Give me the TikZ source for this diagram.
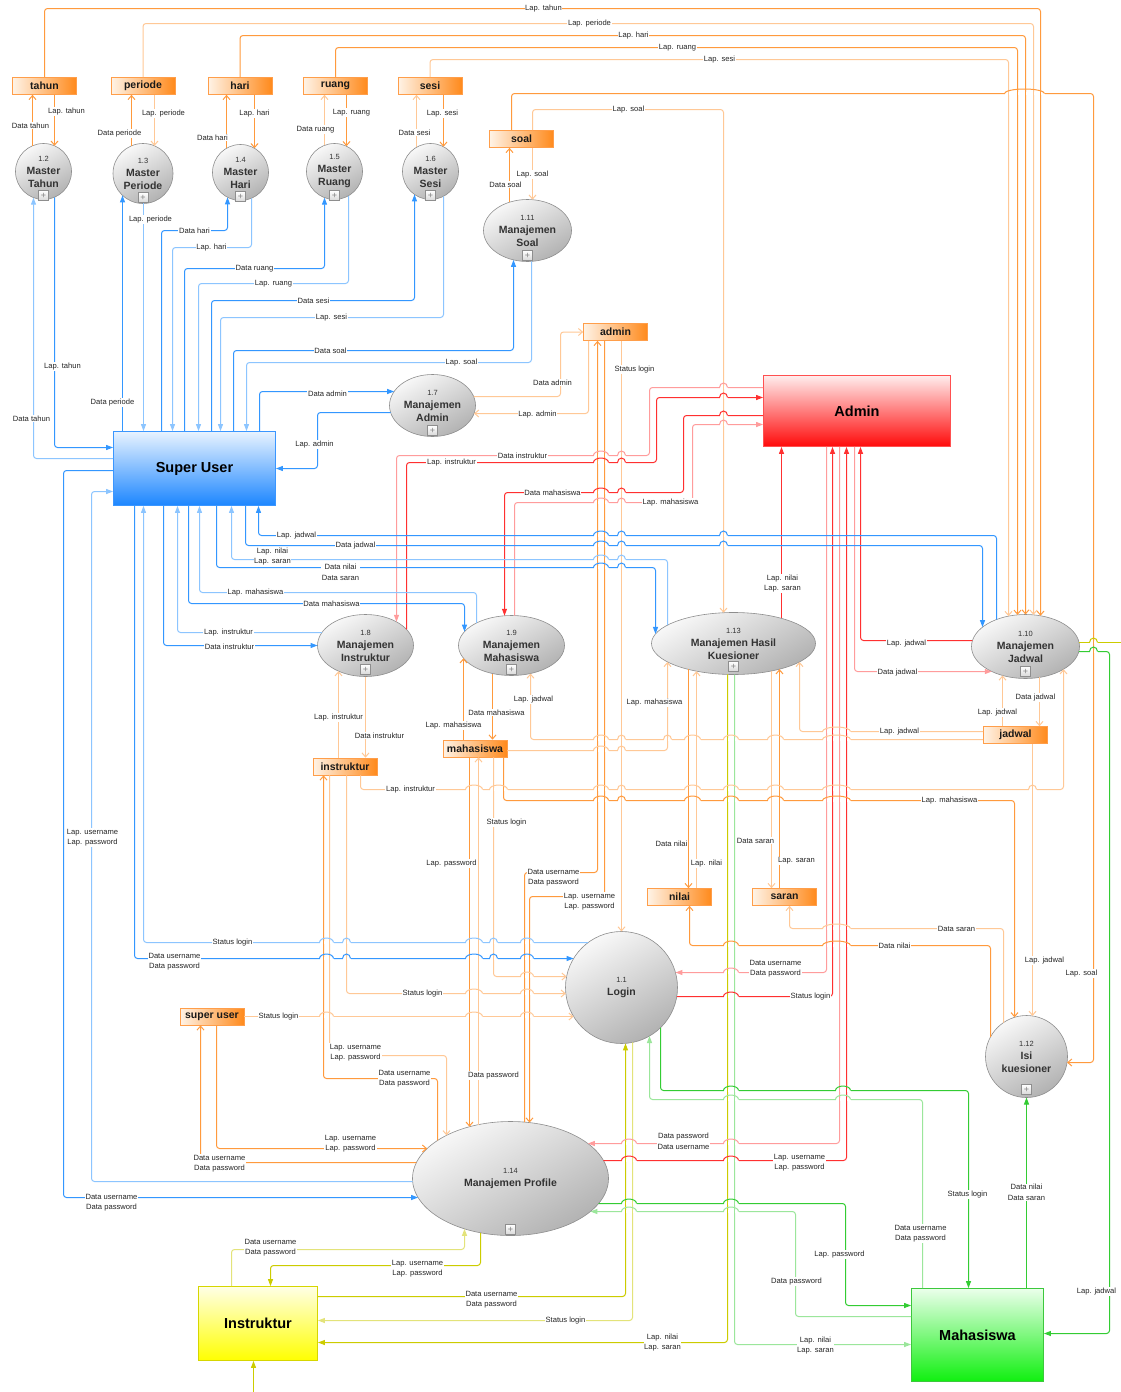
\documentclass[tikz,border=0pt]{standalone}
\usepackage{fontspec}
\setmainfont{Liberation Sans}
\usetikzlibrary{shapes.geometric,arrows.meta,calc}

% flow colours: strong and pale shade of each actor
\definecolor{oD}{HTML}{FF9A3D}
\definecolor{oP}{HTML}{FFC896}
\definecolor{bD}{HTML}{3397FF}
\definecolor{bP}{HTML}{8CC5FF}
\definecolor{rD}{HTML}{FF3030}
\definecolor{rP}{HTML}{FF9C9C}
\definecolor{gD}{HTML}{33CC33}
\definecolor{gP}{HTML}{9BE69B}
\definecolor{yD}{HTML}{CCCC00}
\definecolor{yP}{HTML}{E3E37A}
% data stores
\definecolor{stL}{HTML}{FFF3E6}
\definecolor{stR}{HTML}{FF8A1C}
\definecolor{stB}{HTML}{FF9E4A}
% processes
\definecolor{prL}{HTML}{F8F8F8}
\definecolor{prD}{HTML}{B2B2B2}
\definecolor{prB}{HTML}{8E8E8E}
% external entities
\definecolor{suT}{HTML}{E8F3FF}\definecolor{suB}{HTML}{1C86FF}\definecolor{suE}{HTML}{3A96FF}
\definecolor{adT}{HTML}{FFEDED}\definecolor{adB}{HTML}{FF0A0A}\definecolor{adE}{HTML}{FF5050}
\definecolor{inT}{HTML}{FFFFE6}\definecolor{inB}{HTML}{FFFF00}\definecolor{inE}{HTML}{D6D600}
\definecolor{mhT}{HTML}{EBFFEB}\definecolor{mhB}{HTML}{10F010}\definecolor{mhE}{HTML}{3CC83C}

\tikzset{
  con/.style={line width=1pt, rounded corners=3pt},
  vtip/.style={-{Straight Barb[length=4pt,width=7pt]}},
  ftip/.style={-{Triangle[length=7pt,width=5pt]}},
  fo/.style={con, color=oD, vtip},
  fop/.style={con, color=oP, vtip},
  fb/.style={con, color=bD, ftip},
  fbp/.style={con, color=bP, ftip},
  fr/.style={con, color=rD, ftip},
  frp/.style={con, color=rP, ftip},
  fg/.style={con, color=gD, ftip},
  fgp/.style={con, color=gP, ftip},
  fy/.style={con, color=yD, ftip},
  fyp/.style={con, color=yP, ftip},
  lbl/.style={fill=white, inner sep=0.6pt, font=\fontsize{7.6}{10.5}\selectfont, text=black!85, align=center},
  store/.style={rectangle, minimum width=64pt, minimum height=17pt, inner sep=0pt,
    left color=stL, right color=stR, draw=stB, line width=0.7pt,
    font=\fontsize{10.5}{12}\selectfont\bfseries, text=black!90},
  ent/.style={rectangle, inner sep=0pt, line width=0.8pt,
    font=\fontsize{14.5}{16}\selectfont\bfseries, text=black},
  proc/.style={ellipse, inner sep=0pt, draw=prB, line width=0.6pt,
    top color=prL, bottom color=prD, shading angle=30, align=center,
    font=\fontsize{10.5}{13}\selectfont\bfseries, text=black!80},
  plusbox/.style={rectangle, draw=prB, line width=0.5pt, top color=white, bottom color=gray!30,
    minimum size=10pt, inner sep=0pt, font=\fontsize{9}{9}\selectfont, text=gray},
}

% process geometry, looked up by node name
\newcommand\pcx[1]{\csname cx@#1\endcsname}
\newcommand\pcy[1]{\csname cy@#1\endcsname}
\newcommand\prx[1]{\csname rx@#1\endcsname}
\newcommand\pry[1]{\csname ry@#1\endcsname}
\newcommand\PNum[1]{{\fontsize{7.5}{9}\selectfont\mdseries #1}}
% name, x, y, rx, ry, text, offset of the expand box (empty: none)
\newcommand\DFDproc[7]{%
  \expandafter\xdef\csname cx@#1\endcsname{#2}%
  \expandafter\xdef\csname cy@#1\endcsname{#3}%
  \expandafter\xdef\csname rx@#1\endcsname{#4}%
  \expandafter\xdef\csname ry@#1\endcsname{#5}%
  \node[proc, minimum width=#4*2pt, minimum height=#5*2pt] (#1) at (#2,#3) {#6};%
  \ifx\relax#7\relax\else\node[plusbox] (#1 plus) at ($(#1.center)+(0,#7)$) {+};\fi}
% border points of a process: top/bottom at a given x, left/right at a given y
\newcommand\bT[2]{\coordinate (#1 T#2) at ($(#1.center)+({#2-\pcx{#1}},{-\pry{#1}*sqrt(1-(#2-\pcx{#1})*(#2-\pcx{#1})/(\prx{#1}*\prx{#1}))})$);}
\newcommand\bB[2]{\coordinate (#1 B#2) at ($(#1.center)+({#2-\pcx{#1}},{\pry{#1}*sqrt(1-(#2-\pcx{#1})*(#2-\pcx{#1})/(\prx{#1}*\prx{#1}))})$);}
\newcommand\bL[2]{\coordinate (#1 L#2) at ($(#1.center)+({-\prx{#1}*sqrt(1-(#2-\pcy{#1})*(#2-\pcy{#1})/(\pry{#1}*\pry{#1}))},{#2-\pcy{#1}})$);}
\newcommand\bR[2]{\coordinate (#1 R#2) at ($(#1.center)+({\prx{#1}*sqrt(1-(#2-\pcy{#1})*(#2-\pcy{#1})/(\pry{#1}*\pry{#1}))},{#2-\pcy{#1}})$);}

% line jump: a horizontal flow at height #1 (colour #2) bridges the
% vertical flows between x=#3 and x=#4, listed as x/colour in #5
\newcommand\HOP[5]{%
  \fill[white] (#3-4,#1-1.2) rectangle (#4+4,#1+1.2);
  \foreach \vx/\vc in {#5} {\draw[line width=1pt,\vc] (\vx,#1-1.7) -- (\vx,#1+1.7);}
  \draw[line width=1pt,#2] (#3-4,#1) arc[start angle=180,end angle=360,x radius={(#4-#3)/2+4},y radius=4.5];}

\newcounter{lbc}
\newcommand\Lb[2]{\stepcounter{lbc}\node[lbl] (lab\arabic{lbc}) at (#1) {#2};}

\begin{document}
\begin{tikzpicture}[x=1pt,y=-1pt]
\fill[white] (0,0) rectangle (1120,1392);
\useasboundingbox (0,0) rectangle (1120,1392);
% half-unit offset keeps the one-unit lines on whole raster cells
\begin{scope}[shift={(0.5,0.5)}]

% ---------------- external entities ----------------
\node[ent, top color=suT, bottom color=suB, draw=suE, minimum width=162pt, minimum height=74pt] (eSuper) at (194,468) {Super User};
\node[ent, top color=adT, bottom color=adB, draw=adE, minimum width=187pt, minimum height=71pt] (eAdmin) at (856.5,410.5) {Admin};
\node[ent, top color=inT, bottom color=inB, draw=inE, minimum width=119pt, minimum height=74pt] (eInstr) at (257.5,1323) {Instruktur};
\node[ent, top color=mhT, bottom color=mhB, draw=mhE, minimum width=132pt, minimum height=93pt] (eMhs) at (977,1334.5) {Mahasiswa};

% ---------------- data stores ----------------
\node[store] (sTahun)   at (44,85.5)    {tahun};
\node[store] (sPeriode) at (142.5,85.5) {periode};
\node[store] (sHari)    at (239.5,85.5) {hari};
\node[store] (sRuang)   at (335,85.5)   {ruang};
\node[store] (sSesi)    at (429.5,85.5) {sesi};
\node[store] (sSoal)    at (521,138.5)  {soal};
\node[store] (sAdmin)   at (615,331.5)  {admin};
\node[store] (sInstr)   at (344.5,766)  {instruktur};
\node[store] (sMhs)     at (474.5,748)  {mahasiswa};
\node[store] (sNilai)   at (679,896.5)  {nilai};
\node[store] (sSaran)   at (784,896.5)  {saran};
\node[store] (sJadwal)  at (1015,734.5) {jadwal};
\node[store] (sSuper)   at (211.5,1016) {super user};

% ---------------- processes ----------------
\DFDproc{pTahun}{43}{171}{28}{28}{\PNum{1.2}\\Master\\Tahun}{24}
\DFDproc{pPeriode}{142.5}{173}{30}{30}{\PNum{1.3}\\Master\\Periode}{24}
\DFDproc{pHari}{240}{172}{28}{28}{\PNum{1.4}\\Master\\Hari}{24}
\DFDproc{pRuang}{334}{171}{28}{28}{\PNum{1.5}\\Master\\Ruang}{24}
\DFDproc{pSesi}{430}{171}{28}{28}{\PNum{1.6}\\Master\\Sesi}{24}
\DFDproc{pSoal}{527}{230}{44}{31}{\PNum{1.11}\\Manajemen\\Soal}{25}
\DFDproc{pAdmin}{432}{405}{43}{31}{\PNum{1.7}\\Manajemen\\Admin}{25}
\DFDproc{pInstr}{365}{645}{48}{31}{\PNum{1.8}\\Manajemen\\Instruktur}{24}
\DFDproc{pMhs}{511}{645}{53}{30}{\PNum{1.9}\\Manajemen\\Mahasiswa}{24}
\DFDproc{pHasil}{733}{643}{82}{31}{\PNum{1.13}\\Manajemen Hasil\\Kuesioner}{23}
\DFDproc{pJadwal}{1025}{646}{54}{32}{\PNum{1.10}\\Manajemen\\Jadwal}{25}
\DFDproc{pLogin}{621}{987}{56}{56}{\PNum{1.1}\\Login}{}
\DFDproc{pIsi}{1026}{1056}{41}{41}{\PNum{1.12}\\Isi\\kuesioner}{33}
\DFDproc{pProfile}{510}{1178}{98}{57}{\PNum{1.14}\\Manajemen Profile}{51}

% ---------------- border points used by the flows ----------------
\bT{pTahun}{32}\bT{pTahun}{54}\bB{pTahun}{33}\bB{pTahun}{54}
\bT{pPeriode}{131}\bT{pPeriode}{154}\bB{pPeriode}{122}\bB{pPeriode}{143}
\bT{pHari}{226}\bT{pHari}{254}\bB{pHari}{227}\bB{pHari}{251}
\bT{pRuang}{324}\bT{pRuang}{346}\bB{pRuang}{324}\bB{pRuang}{348}
\bT{pSesi}{416}\bT{pSesi}{443}\bB{pSesi}{414}\bB{pSesi}{443}
\bT{pSoal}{509}\bT{pSoal}{532}\bB{pSoal}{513}\bB{pSoal}{531}
\bL{pAdmin}{391}\bL{pAdmin}{412}\bR{pAdmin}{396}\bR{pAdmin}{413}
\bT{pInstr}{396}\bT{pInstr}{406}\bB{pInstr}{338}\bB{pInstr}{365}\bL{pInstr}{632}\bL{pInstr}{645}
\bT{pMhs}{504}\bT{pMhs}{514}\bT{pMhs}{476}\bT{pMhs}{464}\bB{pMhs}{463}\bB{pMhs}{492}\bB{pMhs}{530}
\bT{pHasil}{723}\bT{pHasil}{781}\bT{pHasil}{667}\bT{pHasil}{655}
\bB{pHasil}{667}\bB{pHasil}{688}\bB{pHasil}{696}\bB{pHasil}{727}\bB{pHasil}{734}\bB{pHasil}{771}\bB{pHasil}{779}\bB{pHasil}{799}
\bT{pJadwal}{1040}\bT{pJadwal}{1033}\bT{pJadwal}{1025}\bT{pJadwal}{1017}\bT{pJadwal}{1008}\bT{pJadwal}{996}\bT{pJadwal}{982}
\bB{pJadwal}{1063}\bB{pJadwal}{1002}\bB{pJadwal}{1039}\bL{pJadwal}{640}\bL{pJadwal}{671}\bR{pJadwal}{642}\bR{pJadwal}{651}
\bT{pLogin}{621}\bL{pLogin}{942}\bL{pLogin}{958}\bL{pLogin}{976}\bL{pLogin}{993}\bL{pLogin}{1016}
\bR{pLogin}{972}\bR{pLogin}{996}\bB{pLogin}{625}\bB{pLogin}{632}\bB{pLogin}{649}\bB{pLogin}{660}
\bT{pIsi}{1014}\bT{pIsi}{1032}\bT{pIsi}{990}\bT{pIsi}{1003}\bB{pIsi}{1026}\bR{pIsi}{1062}
\bT{pProfile}{524}\bT{pProfile}{529}\bT{pProfile}{437}\bT{pProfile}{446}\bT{pProfile}{469}\bT{pProfile}{478}
\bB{pProfile}{464}\bB{pProfile}{480}\bL{pProfile}{1197}\bL{pProfile}{1181}\bL{pProfile}{1162}\bL{pProfile}{1148}
\bR{pProfile}{1143}\bR{pProfile}{1160}\bR{pProfile}{1203}\bR{pProfile}{1211}

% ---------------- master data stores <-> master processes ----------------
\draw[fo]  (pTahun T32) -- (pTahun T32 |- sTahun.south);
\draw[fo]  (pTahun T54 |- sTahun.south) -- (pTahun T54);
\draw[fo]  (pPeriode T131) -- (pPeriode T131 |- sPeriode.south);
\draw[fop] (pPeriode T154 |- sPeriode.south) -- (pPeriode T154);
\draw[fo]  (pHari T226) -- (pHari T226 |- sHari.south);
\draw[fo]  (pHari T254 |- sHari.south) -- (pHari T254);
\draw[fop] (pRuang T324) -- (pRuang T324 |- sRuang.south);
\draw[fo]  (pRuang T346 |- sRuang.south) -- (pRuang T346);
\draw[fop] (pSesi T416) -- (pSesi T416 |- sSesi.south);
\draw[fo]  (pSesi T443 |- sSesi.south) -- (pSesi T443);
\draw[fo]  (pSoal T509) -- (pSoal T509 |- sSoal.south);
\draw[fop] (pSoal T532 |- sSoal.south) -- (pSoal T532);

% reports from the master stores along the top
\draw[fo]  (sTahun.north) -- (sTahun.north |- 0,8) -- (pJadwal T1040 |- 0,8) -- (pJadwal T1040);
\draw[fop] (sPeriode.north) -- (sPeriode.north |- 0,23) -- (pJadwal T1033 |- 0,23) -- (pJadwal T1033);
\draw[fo]  (sHari.north) -- (sHari.north |- 0,35) -- (pJadwal T1025 |- 0,35) -- (pJadwal T1025);
\draw[fo]  (sRuang.north) -- (sRuang.north |- 0,47) -- (pJadwal T1017 |- 0,47) -- (pJadwal T1017);
\draw[fop] (sSesi.north) -- (sSesi.north |- 0,59) -- (pJadwal T1008 |- 0,59) -- (pJadwal T1008);
\draw[fo]  (511,0 |- sSoal.north) -- (511,93) -- (1093,93) -- (1093,0 |- pIsi R1062) -- (pIsi R1062);
\draw[fop] (532,0 |- sSoal.north) -- (532,109) -- (pHasil T723 |- 0,109) -- (pHasil T723);

% ---------------- Super User <-> master processes ----------------
\draw[fbp] (eSuper.west |- 0,458) -- (pTahun B33 |- 0,458) -- (pTahun B33);
\draw[fb]  (pTahun B54) -- (pTahun B54 |- 0,447) -- (eSuper.west |- 0,447);
\draw[fb]  (pPeriode B122 |- eSuper.north) -- (pPeriode B122);
\draw[fbp] (pPeriode B143) -- (pPeriode B143 |- eSuper.north);
\draw[fb]  (161,0 |- eSuper.north) -- (161,230) -- (pHari B227 |- 0,230) -- (pHari B227);
\draw[fbp] (pHari B251) -- (pHari B251 |- 0,247) -- (172,247) -- (172,0 |- eSuper.north);
\draw[fb]  (184,0 |- eSuper.north) -- (184,268) -- (pRuang B324 |- 0,268) -- (pRuang B324);
\draw[fbp] (pRuang B348) -- (pRuang B348 |- 0,283) -- (198,283) -- (198,0 |- eSuper.north);
\draw[fb]  (211,0 |- eSuper.north) -- (211,300) -- (pSesi B414 |- 0,300) -- (pSesi B414);
\draw[fbp] (pSesi B443) -- (pSesi B443 |- 0,317) -- (220,317) -- (220,0 |- eSuper.north);
\draw[fb]  (233,0 |- eSuper.north) -- (233,350) -- (pSoal B513 |- 0,350) -- (pSoal B513);
\draw[fbp] (pSoal B531) -- (pSoal B531 |- 0,362) -- (246,362) -- (246,0 |- eSuper.north);
\draw[fb]  (259,0 |- eSuper.north) -- (259,391) -- (pAdmin L391);
\draw[fb]  (pAdmin L412) -- (317,412) -- (317,468) -- (eSuper.east |- 0,468);

% ---------------- admin store ----------------
\draw[fop] (pAdmin R396) -- (560,396) -- (560,0 |- sAdmin.west) -- (sAdmin.west);
\draw[fop] (588,0 |- sAdmin.south) -- (588,413) -- (pAdmin R413);
\draw[fop] (pLogin T621 |- sAdmin.south) -- (pLogin T621);
\draw[fo]  (pProfile T524) -- (524,872) -- (597,872) -- (597,0 |- sAdmin.south);
\draw[fo]  (604,0 |- sAdmin.south) -- (604,896) -- (529,896) -- (pProfile T529);

% ---------------- Admin flows ----------------
\draw[frp] (eAdmin.west |- 0,387) -- (649,387) -- (649,455) -- (396,455) -- (pInstr T396);
\draw[fr]  (pInstr T406) -- (406,462) -- (656,462) -- (656,397) -- (eAdmin.west |- 0,397);
\draw[fr]  (eAdmin.west |- 0,415) -- (683,415) -- (683,492) -- (504,492) -- (pMhs T504);
\draw[frp] (pMhs T514) -- (514,502) -- (692,502) -- (692,424) -- (eAdmin.west |- 0,424);
\draw[fr]  (pHasil T781) -- (pHasil T781 |- eAdmin.south);
\draw[fr]  (pJadwal L640) -- (860,640) -- (860,0 |- eAdmin.south);
\draw[frp] (854,0 |- eAdmin.south) -- (854,671) -- (pJadwal L671);
\draw[frp] (826,0 |- eAdmin.south) -- (826,972) -- (pLogin R972);
\draw[fr]  (pLogin R996) -- (832,996) -- (832,0 |- eAdmin.south);
\draw[frp] (839,0 |- eAdmin.south) -- (839,1143) -- (pProfile R1143);
\draw[fr]  (pProfile R1160) -- (846,1160) -- (846,0 |- eAdmin.south);

% ---------------- Super User flows below ----------------
\draw[fb]  (pJadwal T996) -- (996,535) -- (258,535) -- (258,0 |- eSuper.south);
\draw[fb]  (245,0 |- eSuper.south) -- (245,545) -- (982,545) -- (pJadwal T982);
\draw[fbp] (pHasil T667) -- (667,559) -- (231,559) -- (231,0 |- eSuper.south);
\draw[fb]  (216,0 |- eSuper.south) -- (216,567) -- (655,567) -- (pHasil T655);
\draw[fbp] (pMhs T476) -- (476,592) -- (199,592) -- (199,0 |- eSuper.south);
\draw[fb]  (188,0 |- eSuper.south) -- (188,603) -- (464,603) -- (pMhs T464);
\draw[fbp] (pInstr L632) -- (177,632) -- (177,0 |- eSuper.south);
\draw[fb]  (163,0 |- eSuper.south) -- (163,645) -- (pInstr L645);
\draw[fbp] (pLogin L942) -- (143,942) -- (143,0 |- eSuper.south);
\draw[fb]  (134,0 |- eSuper.south) -- (134,958) -- (pLogin L958);
\draw[fb]  (eSuper.west |- 0,470) -- (63,470) -- (63,1197) -- (pProfile L1197);
\draw[fbp] (pProfile L1181) -- (91,1181) -- (91,491) -- (eSuper.west |- 0,491);

% ---------------- instruktur, super user and mahasiswa stores ----------------
\draw[fop] (pInstr B338 |- sInstr.north) -- (pInstr B338);
\draw[fop] (pInstr B365) -- (pInstr B365 |- sInstr.north);
\draw[fop] (360,0 |- sInstr.south) -- (360,789) -- (1063,789) -- (pJadwal B1063);
\draw[fo]  (pProfile T437) -- (437,1078) -- (323,1078) -- (323,0 |- sInstr.south);
\draw[fop] (329,0 |- sInstr.south) -- (329,1055) -- (446,1055) -- (pProfile T446);
\draw[fop] (346,0 |- sInstr.south) -- (346,993) -- (pLogin L993);
\draw[fop] (sSuper.east) -- (pLogin L1016);
\draw[fo]  (pProfile L1162) -- (200,1162) -- (200,0 |- sSuper.south);
\draw[fo]  (216,0 |- sSuper.south) -- (216,1148) -- (pProfile L1148);
\draw[fo]  (pMhs B463 |- sMhs.north) -- (pMhs B463);
\draw[fo]  (pMhs B492) -- (pMhs B492 |- sMhs.north);
\draw[fop] (sJadwal.west |- 0,739) -- (530,739) -- (pMhs B530);
\draw[fop] (sMhs.east |- 0,750) -- (667,750) -- (pHasil B667);
\draw[fop] (sJadwal.west |- 0,731) -- (799,731) -- (pHasil B799);
\draw[fo]  (503,0 |- sMhs.south) -- (503,800) -- (1014,800) -- (pIsi T1014);
\draw[fop] (493,0 |- sMhs.south) -- (493,976) -- (pLogin L976);
\draw[fo]  (pProfile T469 |- sMhs.south) -- (pProfile T469);
\draw[fop] (pProfile T478) -- (pProfile T478 |- sMhs.south);

% ---------------- nilai, saran and jadwal stores ----------------
\draw[fo]  (pHasil B688) -- (pHasil B688 |- sNilai.north);
\draw[fop] (pHasil B696 |- sNilai.north) -- (pHasil B696);
\draw[fop] (pHasil B771) -- (pHasil B771 |- sSaran.north);
\draw[fo]  (pHasil B779 |- sSaran.north) -- (pHasil B779);
\draw[fo]  (pIsi T990) -- (990,945) -- (689,945) -- (689,0 |- sNilai.south);
\draw[fop] (pIsi T1003) -- (1003,928) -- (789,928) -- (789,0 |- sSaran.south);
\draw[fop] (pJadwal B1002 |- sJadwal.north) -- (pJadwal B1002);
\draw[fop] (pJadwal B1039) -- (pJadwal B1039 |- sJadwal.north);
\draw[fop] (pIsi T1032 |- sJadwal.south) -- (pIsi T1032);

% ---------------- Instruktur and Mahasiswa flows ----------------
\coordinate (edgeR) at (1120,642);
\draw[con, color=yD] (pJadwal R642) -- (edgeR);
\draw[fg]  (pJadwal R651) -- (1109,651) -- (1109,1333) -- (eMhs.east |- 0,1333);
\draw[fyp] (231,0 |- eInstr.north) -- (231,1249) -- (464,1249) -- (pProfile B464);
\draw[fy]  (pProfile B480) -- (480,1265) -- (270,1265) -- (270,0 |- eInstr.north);
\draw[fy]  (eInstr.east |- 0,1296) -- (625,1296) -- (pLogin B625);
\draw[fyp] (pLogin B632) -- (632,1320) -- (eInstr.east |- 0,1320);
\draw[fy]  (pHasil B727) -- (727,1342) -- (eInstr.east |- 0,1342);
\draw[fgp] (pHasil B734) -- (734,1344) -- (eMhs.west |- 0,1344);
\draw[fg]  (pLogin B660) -- (660,1090) -- (968,1090) -- (968,0 |- eMhs.north);
\draw[fgp] (922,0 |- eMhs.north) -- (922,1099) -- (649,1099) -- (pLogin B649);
\draw[fg]  (pIsi B1026 |- eMhs.north) -- (pIsi B1026);
\draw[fg]  (pProfile R1203) -- (845,1203) -- (845,1305) -- (eMhs.west |- 0,1305);
\draw[fgp] (eMhs.west |- 0,1316) -- (795,1316) -- (795,1211) -- (pProfile R1211);
\coordinate (edgeB) at (253,1392);
\draw[fy] (edgeB) -- (edgeB |- eInstr.south);

% ---------------- line jumps where flows cross ----------------
\foreach \y/\hc in {455/rP,462/rD,492/rD,502/rP,535/bD,545/bD,559/bP,567/bD,739/oP,750/oP,789/oP,800/oD}
  {\HOP{\y}{\hc}{597}{604}{597/oD,604/oD}\HOP{\y}{\hc}{621}{621}{621/oP}}
\foreach \y/\hc in {387/rP,397/rD,415/rD,424/rP,535/bD,545/bD}
  {\HOP{\y}{\hc}{723}{723}{723/oP}}
\foreach \y/\hc in {789/oP,800/oD,739/oP}
  {\HOP{\y}{\hc}{688}{696}{688/oD,696/oP}\HOP{\y}{\hc}{727}{734}{727/yD,734/gP}%
   \HOP{\y}{\hc}{771}{779}{771/oP,779/oD}\HOP{\y}{\hc}{826}{846}{826/rP,832/rD,839/rP,846/rD}}
\HOP{789}{oP}{469}{478}{469/oD,478/oP}
\HOP{789}{oP}{493}{503}{493/oP,503/oD}
\HOP{789}{oP}{1032}{1032}{1032/oP}
\HOP{739}{oP}{667}{667}{667/oP}
\HOP{731}{oP}{826}{846}{826/rP,832/rD,839/rP,846/rD}
\HOP{928}{oP}{826}{846}{826/rP,832/rD,839/rP,846/rD}
\HOP{945}{oD}{826}{846}{826/rP,832/rD,839/rP,846/rD}
\HOP{945}{oD}{727}{734}{727/yD,734/gP}
\HOP{972}{rP}{727}{734}{727/yD,734/gP}
\HOP{996}{rD}{727}{734}{727/yD,734/gP}
\foreach \y/\hc in {1090/gD,1099/gP}
  {\HOP{\y}{\hc}{727}{734}{727/yD,734/gP}\HOP{\y}{\hc}{839}{846}{839/rP,846/rD}}
\foreach \y/\hc in {1143/rP,1160/rD,1203/gD,1211/gP}
  {\HOP{\y}{\hc}{625}{632}{625/yD,632/yP}\HOP{\y}{\hc}{727}{734}{727/yD,734/gP}}
\foreach \y/\hc in {942/bP,958/bD}
  {\HOP{\y}{\hc}{323}{329}{323/oD,329/oP}\HOP{\y}{\hc}{346}{346}{346/oP}%
   \HOP{\y}{\hc}{469}{478}{469/oD,478/oP}\HOP{\y}{\hc}{493}{493}{493/oP}%
   \HOP{\y}{\hc}{524}{529}{524/oD,529/oD}}
\HOP{976}{oP}{524}{529}{524/oD,529/oD}
\HOP{993}{oP}{469}{478}{469/oD,478/oP}
\HOP{993}{oP}{524}{529}{524/oD,529/oD}
\HOP{1016}{oP}{323}{329}{323/oD,329/oP}
\HOP{1016}{oP}{469}{478}{469/oD,478/oP}
\HOP{1016}{oP}{524}{529}{524/oD,529/oD}
\HOP{93}{oD}{1008}{1040}{1008/oP,1017/oD,1025/oD,1033/oP,1040/oD}
\HOP{642}{yD}{1093}{1093}{1093/oD}
\HOP{651}{gD}{1093}{1093}{1093/oD}

% ---------------- flow labels ----------------
\Lb{543,8}{Lap. tahun}
\Lb{589,23}{Lap. periode}
\Lb{633,35}{Lap. hari}
\Lb{677,47}{Lap. ruang}
\Lb{719,59}{Lap. sesi}
\Lb{628,109}{Lap. soal}
\Lb{66,111}{Lap. tahun}
\Lb{30,125}{Data tahun}
\Lb{163,113}{Lap. periode}
\Lb{119,133}{Data periode}
\Lb{254,113}{Lap. hari}
\Lb{212,137}{Data hari}
\Lb{351,112}{Lap. ruang}
\Lb{315,129}{Data ruang}
\Lb{442,113}{Lap. sesi}
\Lb{414,132}{Data sesi}
\Lb{532,174}{Lap. soal}
\Lb{505,184}{Data soal}
\Lb{150,219}{Lap. periode}
\Lb{194,230}{Data hari}
\Lb{211,247}{Lap. hari}
\Lb{254,268}{Data ruang}
\Lb{273,283}{Lap. ruang}
\Lb{313,300}{Data sesi}
\Lb{331,317}{Lap. sesi}
\Lb{330,350}{Data soal}
\Lb{461,362}{Lap. soal}
\Lb{62,366}{Lap. tahun}
\Lb{112,402}{Data periode}
\Lb{31,418}{Data tahun}
\Lb{327,393}{Data admin}
\Lb{314,444}{Lap. admin}
\Lb{552,382}{Data admin}
\Lb{537,414}{Lap. admin}
\Lb{634,369}{Status login}
\Lb{522,455}{Data instruktur}
\Lb{451,462}{Lap. instruktur}
\Lb{552,492}{Data mahasiswa}
\Lb{670,502}{Lap. mahasiswa}
\Lb{782,583}{Lap. nilai\\Lap. saran}
\Lb{906,643}{Lap. jadwal}
\Lb{897,672}{Data jadwal}
\Lb{296,535}{Lap. jadwal}
\Lb{355,545}{Data jadwal}
\Lb{272,556}{Lap. nilai\\Lap. saran}
\Lb{340,572}{Data nilai\\Data saran}
\Lb{255,592}{Lap. mahasiswa}
\Lb{331,603}{Data mahasiswa}
\Lb{228,632}{Lap. instruktur}
\Lb{229,646}{Data instruktur}
\Lb{338,717}{Lap. instruktur}
\Lb{379,735}{Data instruktur}
\Lb{453,725}{Lap. mahasiswa}
\Lb{496,712}{Data mahasiswa}
\Lb{533,699}{Lap. jadwal}
\Lb{654,702}{Lap. mahasiswa}
\Lb{899,731}{Lap. jadwal}
\Lb{1035,697}{Data jadwal}
\Lb{997,712}{Lap. jadwal}
\Lb{410,789}{Lap. instruktur}
\Lb{949,800}{Lap. mahasiswa}
\Lb{506,822}{Status login}
\Lb{451,863}{Lap. password}
\Lb{553,877}{Data username\\Data password}
\Lb{589,901}{Lap. username\\Lap. password}
\Lb{671,843}{Data nilai}
\Lb{706,863}{Lap. nilai}
\Lb{755,840}{Data saran}
\Lb{796,860}{Lap. saran}
\Lb{956,928}{Data saran}
\Lb{894,945}{Data nilai}
\Lb{1044,960}{Lap. jadwal}
\Lb{1081,973}{Lap. soal}
\Lb{775,968}{Data username\\Data password}
\Lb{810,996}{Status login}
\Lb{92,837}{Lap. username\\Lap. password}
\Lb{232,942}{Status login}
\Lb{174,961}{Data username\\Data password}
\Lb{422,993}{Status login}
\Lb{278,1016}{Status login}
\Lb{355,1052}{Lap. username\\Lap. password}
\Lb{404,1078}{Data username\\Data password}
\Lb{493,1075}{Data password}
\Lb{350,1143}{Lap. username\\Lap. password}
\Lb{219,1163}{Data username\\Data password}
\Lb{111,1202}{Data username\\Data password}
\Lb{270,1247}{Data username\\Data password}
\Lb{417,1268}{Lap. username\\Lap. password}
\Lb{491,1299}{Data username\\Data password}
\Lb{565,1320}{Status login}
\Lb{662,1342}{Lap. nilai\\Lap. saran}
\Lb{815,1345}{Lap. nilai\\Lap. saran}
\Lb{683,1141}{Data password\\Data username}
\Lb{799,1162}{Lap. username\\Lap. password}
\Lb{967,1194}{Status login}
\Lb{1026,1192}{Data nilai\\Data saran}
\Lb{920,1233}{Data username\\Data password}
\Lb{839,1254}{Lap. password}
\Lb{796,1281}{Data password}
\Lb{1096,1291}{Lap. jadwal}
\end{scope}
\end{tikzpicture}
\end{document}
